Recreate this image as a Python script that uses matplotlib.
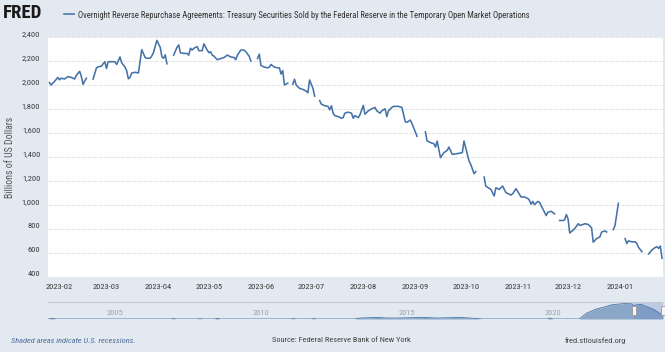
import numpy as np
import pandas as pd
import matplotlib
matplotlib.use("Agg")
import matplotlib.pyplot as plt
import matplotlib.dates as mdates
from matplotlib.ticker import FuncFormatter, FixedLocator
from matplotlib.patches import Rectangle
from matplotlib import font_manager as fm

# ---------------- data ----------------
NAN = float("nan")
dates = [
    # segment 1
    "2023-01-26", "2023-01-27", "2023-01-29", "2023-01-31", "2023-02-01", "2023-02-02",
    "2023-02-04", "2023-02-06", "2023-02-08", "2023-02-10", "2023-02-11", "2023-02-13",
    "2023-02-14", "2023-02-15", "2023-02-16", "2023-02-17",
    "2023-02-19",
    # segment 2
    "2023-02-21", "2023-02-23", "2023-02-24", "2023-02-26", "2023-02-27", "2023-02-28",
    "2023-03-01", "2023-03-02", "2023-03-04", "2023-03-06", "2023-03-07", "2023-03-08",
    "2023-03-09", "2023-03-10", "2023-03-12", "2023-03-13", "2023-03-14", "2023-03-15",
    "2023-03-16", "2023-03-18", "2023-03-20", "2023-03-22", "2023-03-24", "2023-03-25",
    "2023-03-27", "2023-03-28", "2023-03-29", "2023-03-31", "2023-04-02", "2023-04-03",
    "2023-04-04", "2023-04-05", "2023-04-06",
    "2023-04-08",
    # segment 3
    "2023-04-10", "2023-04-12", "2023-04-13", "2023-04-14", "2023-04-16", "2023-04-18",
    "2023-04-19", "2023-04-20", "2023-04-21", "2023-04-22", "2023-04-24", "2023-04-25",
    "2023-04-27", "2023-04-28", "2023-04-30", "2023-05-01", "2023-05-02", "2023-05-03",
    "2023-05-04", "2023-05-06", "2023-05-08", "2023-05-10", "2023-05-12", "2023-05-14",
    "2023-05-16", "2023-05-17", "2023-05-18", "2023-05-20", "2023-05-22", "2023-05-23",
    "2023-05-25", "2023-05-26",
    "2023-05-28",
    # segment 4
    "2023-05-30", "2023-05-31", "2023-06-01", "2023-06-03", "2023-06-05", "2023-06-06",
    "2023-06-07", "2023-06-09", "2023-06-11", "2023-06-12", "2023-06-13", "2023-06-14",
    "2023-06-15", "2023-06-17",
    "2023-06-18",
    # segment 5
    "2023-06-20", "2023-06-21", "2023-06-22", "2023-06-24", "2023-06-26", "2023-06-28",
    "2023-06-29", "2023-06-30", "2023-07-02", "2023-07-03",
    "2023-07-04",
    # segment 6
    "2023-07-06", "2023-07-07", "2023-07-09", "2023-07-11", "2023-07-12", "2023-07-13",
    "2023-07-14", "2023-07-15", "2023-07-17", "2023-07-19", "2023-07-20", "2023-07-21",
    "2023-07-23", "2023-07-25", "2023-07-26", "2023-07-27", "2023-07-29", "2023-07-30",
    "2023-08-01", "2023-08-02", "2023-08-04", "2023-08-06", "2023-08-08", "2023-08-09",
    "2023-08-11", "2023-08-12", "2023-08-14", "2023-08-15", "2023-08-16", "2023-08-18",
    "2023-08-19", "2023-08-22", "2023-08-24", "2023-08-26", "2023-08-27", "2023-08-29",
    "2023-08-30", "2023-09-02",
    "2023-09-04",
    # segment 7
    "2023-09-07", "2023-09-08", "2023-09-10", "2023-09-12", "2023-09-13", "2023-09-14",
    "2023-09-16", "2023-09-18", "2023-09-20", "2023-09-21", "2023-09-23", "2023-09-26",
    "2023-09-29", "2023-09-30", "2023-10-03", "2023-10-04", "2023-10-06", "2023-10-07",
    "2023-10-09",
    # segment 8
    "2023-10-12", "2023-10-13", "2023-10-16", "2023-10-17", "2023-10-18", "2023-10-19",
    "2023-10-21", "2023-10-23", "2023-10-25", "2023-10-28", "2023-10-29", "2023-10-31",
    "2023-11-03", "2023-11-05", "2023-11-07", "2023-11-08", "2023-11-09", "2023-11-10",
    "2023-11-11", "2023-11-13", "2023-11-14", "2023-11-16", "2023-11-18", "2023-11-19",
    "2023-11-21", "2023-11-23",
    "2023-11-24",
    # segment 9
    "2023-11-26", "2023-11-28", "2023-11-29", "2023-11-30", "2023-12-01", "2023-12-02",
    "2023-12-05", "2023-12-07", "2023-12-08", "2023-12-10", "2023-12-11", "2023-12-13",
    "2023-12-15", "2023-12-16", "2023-12-18", "2023-12-20", "2023-12-21", "2023-12-23",
    "2023-12-24",
    "2023-12-25",
    # segment 10
    "2023-12-28", "2023-12-29", "2023-12-31",
    "2024-01-01",
    # segment 11
    "2024-01-04", "2024-01-05", "2024-01-06", "2024-01-08", "2024-01-10", "2024-01-11",
    "2024-01-12", "2024-01-14",
    "2024-01-15",
    # segment 12
    "2024-01-18", "2024-01-20", "2024-01-22", "2024-01-23", "2024-01-24", "2024-01-25",
    "2024-01-26",
]
values = [
    2020, 2000, 2030, 2063, 2043, 2057, 2050, 2070, 2063, 2050, 2080, 2114, 2070, 2005, 2034, 2057,
    NAN,
    2049, 2143, 2151, 2157, 2177, 2194, 2137, 2194, 2194, 2194, 2171, 2200, 2234, 2186,
    2149, 2120, 2051, 2063, 2100, 2106, 2100, 2294, 2229, 2223, 2223, 2243, 2271, 2372,
    2314, 2234, 2223, 2251, 2177,
    NAN,
    2249, 2314, 2334, 2269, 2263, 2263, 2249, 2306, 2291, 2306, 2320, 2286, 2286, 2343, 2291,
    2269, 2277, 2249, 2240, 2211, 2220, 2229, 2249, 2234, 2229, 2211, 2249, 2291, 2291, 2277,
    2240, 2200,
    NAN,
    2220, 2257, 2163, 2149, 2143, 2149, 2171, 2149, 2143, 2143, 2091, 2120, 2000, 2015,
    NAN,
    2006, 2048, 2000, 1972, 1963, 1949, 1935, 2042, 1972, 1907,
    NAN,
    1870, 1841, 1827, 1822, 1793, 1827, 1765, 1745, 1737, 1723, 1728, 1765, 1774, 1765,
    1723, 1745, 1728, 1751, 1830, 1757, 1785, 1802, 1813, 1785, 1765, 1785, 1802, 1737,
    1785, 1813, 1822, 1822, 1813, 1694, 1689, 1708, 1679, 1573,
    NAN,
    1609, 1535, 1520, 1511, 1483, 1533, 1394, 1436, 1456, 1483, 1422, 1428, 1436, 1533,
    1367, 1339, 1261, 1278,
    NAN,
    1233, 1158, 1130, 1103, 1075, 1144, 1130, 1158, 1103, 1083, 1094, 1136, 1067, 1067,
    1055, 1039, 1006, 1030, 1003, 1030, 1022, 967, 912, 940, 948, 926,
    NAN,
    871, 871, 877, 921, 885, 767, 803, 844, 830, 838, 844, 838, 811, 690, 720, 734, 775, 784, 775,
    NAN,
    795, 830, 1014,
    NAN,
    720, 679, 701, 693, 693, 679, 647, 611,
    NAN,
    592, 625, 647, 652, 638, 658, 556,
]
assert len(dates) == len(values)

y_ticks = [400, 600, 800, 1000, 1200, 1400, 1600, 1800, 2000, 2200, 2400]

# navigator (full history, billions)
nav_years = [2003.0, 2003.15, 2003.3, 2007.2, 2007.3, 2007.4, 2008.1, 2008.2, 2008.3,
             2008.7, 2008.8, 2008.9, 2011.3, 2011.4, 2011.5, 2012.0, 2012.1, 2012.2,
             2013.5, 2013.7, 2014.3, 2014.6, 2015.0, 2015.9, 2016.3, 2016.8, 2017.1,
             2017.6, 2017.9, 2020.1, 2020.2, 2020.3, 2021.2, 2021.45, 2021.75, 2022.0,
             2022.3, 2022.6, 2022.99, 2023.05, 2023.3, 2023.55, 2023.75, 2023.9, 2024.07]
nav_values = [0, 80, 0, 0, 60, 0, 0, 60, 0,
              0, 100, 0, 0, 60, 0, 0, 60, 0,
              0, 150, 250, 150, 150, 250, 150, 200, 250,
              100, 0, 0, 150, 0, 0, 900, 1500, 1800,
              2200, 2350, 2500, 2100, 2300, 1850, 1500, 1050, 560]
nav_year_labels = [2005, 2010, 2015, 2020]

TITLE = ("Overnight Reverse Repurchase Agreements: Treasury Securities Sold by the "
         "Federal Reserve in the Temporary Open Market Operations")

# ---------------- style ----------------
avail = {f.name for f in fm.fontManager.ttflist}
FONT, S = "Liberation Sans", 0.84
for cand in ["Liberation Sans Narrow", "Roboto Condensed"]:
    if cand in avail:
        FONT, S = cand, 1.0
        break
plt.rcParams["font.family"] = [FONT, "DejaVu Sans"]

BG = "#e2e9f0"
LINE = "#4572a7"
GRID = "#e6e6e6"
W, H = 665, 352


def fx(x):
    return x / W


def fy(y):
    return 1 - y / H


fig = plt.figure(figsize=(6.65, 3.52), dpi=100, facecolor=BG)

# ---------------- main chart ----------------
ax = fig.add_axes([fx(48), fy(277), (663 - 48) / W, (277 - 37) / H])
ax.set_facecolor("white")
t = pd.to_datetime(dates)
v = np.array(values, dtype=float)
line, = ax.plot(t, v, color=LINE, lw=1.15, solid_joinstyle="round", zorder=3)

x_left = pd.Timestamp("2023-01-25 03:00")
x_right = pd.Timestamp("2024-01-26 14:00")
ax.set_xlim(x_left, x_right)
ax.set_ylim(400, 2400)
ax.yaxis.set_major_locator(FixedLocator(y_ticks))
ax.yaxis.set_major_formatter(FuncFormatter(lambda val, p: f"{val:,.0f}"))
ax.xaxis.set_major_locator(mdates.MonthLocator())
ax.xaxis.set_major_formatter(mdates.DateFormatter("%Y-%m"))
for s in ax.spines.values():
    s.set_visible(False)
ax.grid(axis="y", color=GRID, lw=0.8, ls=(0, (4, 1)))
ax.set_axisbelow(True)
ax.tick_params(axis="both", length=0, labelsize=6 * S, labelcolor="#3a3a3a")
ax.tick_params(axis="y", pad=5.5)
ax.tick_params(axis="x", pad=5)
for lab in ax.get_yticklabels():
    lab.set_va("bottom")

# ---------------- navigator ----------------
nav = fig.add_axes([fx(48), fy(319), (663 - 48) / W, (319 - 302) / H])
nav.set_facecolor("none")


def yearfrac(ts):
    days = 366 if ts.is_leap_year else 365
    return ts.year + (ts.dayofyear - 1 + ts.hour / 24) / days


h_left, h_right = yearfrac(x_left), yearfrac(x_right)
nav.fill_between(nav_years, nav_values, color=LINE, alpha=0.55, lw=0)
nav.plot(nav_years, nav_values, color=LINE, lw=0.6)
nav.set_xlim(2003.0, h_right)
nav.set_ylim(0, 2650)
nav.axvspan(h_left, h_right, color=(0.4, 0.52, 0.76), alpha=0.3, lw=0)
for s in ["left", "right", "bottom"]:
    nav.spines[s].set_visible(False)
nav.spines["top"].set_color("#c3cad3")
nav.spines["top"].set_linewidth(0.8)
nav.set_xticks([])
nav.set_yticks([])
for yr in nav_year_labels:
    nav.text(yr, 0.38, str(yr), transform=nav.get_xaxis_transform(), ha="left",
             va="center", fontsize=6 * S, color="#9ba6b2")
hw = 4 / 615 * (h_right - 2003.0)
for hx in (h_left, h_right):
    nav.add_patch(Rectangle((hx - hw / 2, 0.22), hw, 0.56,
                            transform=nav.get_xaxis_transform(), facecolor="#f4f4f4",
                            edgecolor="#999999", lw=0.6, clip_on=False, zorder=5))

# ---------------- header ----------------
fig.text(fx(3), fy(13.5), "FRED", fontsize=13.5 * S, weight="bold", color="#1a1a1a",
         ha="left", va="center")
fig.legend([line], [TITLE], loc="center left", bbox_to_anchor=(fx(64), fy(15)),
           frameon=False, handlelength=1.2, handletextpad=0.45, borderpad=0,
           borderaxespad=0, fontsize=6.2 * S, labelcolor="#333333")

# ---------------- labels & footer ----------------
fig.text(fx(10), fy(157), "Billions of US Dollars", rotation=90, fontsize=7 * S,
         color="#555555", ha="center", va="center")
fig.text(fx(11), fy(341), "Shaded areas indicate U.S. recessions.", style="italic",
         fontsize=6 * S, color="#4d6e98", ha="left", va="center")
fig.text(fx(272), fy(340.5), "Source: Federal Reserve Bank of New York", fontsize=6 * S,
         color="#444444", ha="left", va="center")
fig.text(fx(565), fy(340.5), "fred.stlouisfed.org", fontsize=6 * S, color="#444444",
         ha="left", va="center")

fig.savefig("out.png", dpi=100, facecolor=BG)
